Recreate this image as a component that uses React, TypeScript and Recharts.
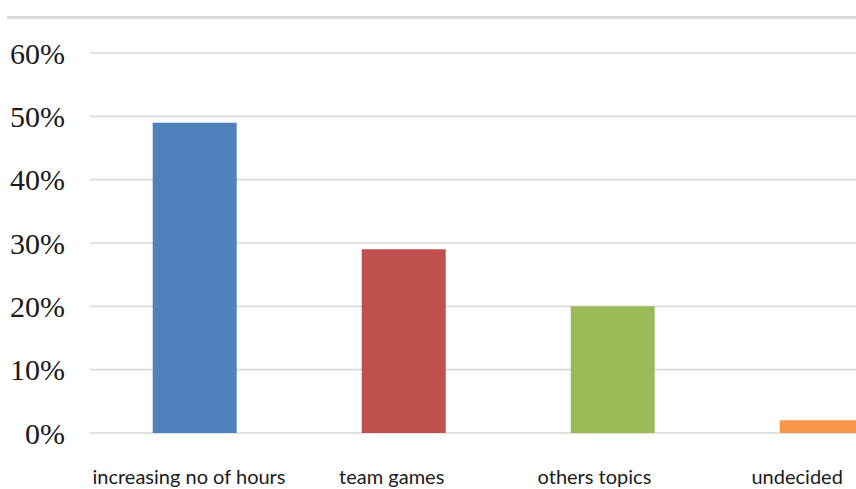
import React from "react";
import { BarChart, Bar, XAxis, YAxis, CartesianGrid, Cell } from "recharts";

// Share of responses per option, in percent
const categories = ["increasing no of hours", "team games", "others topics", "undecided"];
const shares = [49, 29, 20, 2];
const barColors = ["#4f81bd", "#c0504d", "#9bbb59", "#f79646"];
const yTicks = [0, 10, 20, 30, 40, 50, 60];

const data = categories.map((name, i) => ({ name, value: shares[i] }));

const CategoryTick = (props: any) => {
  const { x, y, payload } = props;
  // labels sit a little left of the bar centres, drifting further left across the axis
  const shift = -5.5 - (x - 194) * 0.03;
  return (
    <text
      x={x + shift}
      y={y}
      textAnchor="middle"
      fontFamily="Lato, 'Open Sans', sans-serif"
      fontSize={20}
      fill="#1a1a1a"
    >
      {payload.value}
    </text>
  );
};

export default function App() {
  return (
    <div
      style={{
        position: "fixed",
        left: 0,
        top: 0,
        width: 856,
        height: 489,
        overflow: "hidden",
        background: "#ffffff",
      }}
    >
      <div
        style={{
          position: "absolute",
          left: 7,
          top: 16,
          width: 849,
          height: 2.5,
          background: "#d9d9d9",
        }}
      />
      <BarChart
        width={930}
        height={489}
        data={data}
        margin={{ top: 53, right: 4, bottom: 0, left: 0 }}
        barCategoryGap="30%"
      >
        <CartesianGrid vertical={false} stroke="#d9d9d9" strokeWidth={1.6} />
        <XAxis
          dataKey="name"
          axisLine={false}
          tickLine={false}
          tickSize={0}
          tickMargin={51}
          height={56}
          interval={0}
          tick={<CategoryTick />}
        />
        <YAxis
          domain={[0, 60]}
          ticks={yTicks}
          tickFormatter={(v: number) => `${v}%`}
          axisLine={false}
          tickLine={false}
          tickSize={0}
          tickMargin={25}
          width={90}
          tick={{ fontFamily: "'Liberation Serif', 'Times New Roman', serif", fontSize: 30, fill: "#1a1a1a" }}
        />
        <Bar dataKey="value" isAnimationActive={false}>
          {data.map((d, i) => (
            <Cell key={d.name} fill={barColors[i]} />
          ))}
        </Bar>
      </BarChart>
    </div>
  );
}
